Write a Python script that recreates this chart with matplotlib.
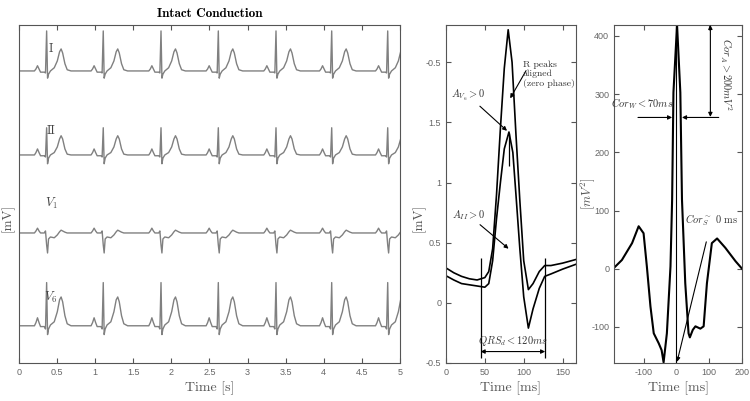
import numpy as np
import matplotlib
matplotlib.use("Agg")
import matplotlib.pyplot as plt

# ---- data ----
# R peak times of the 5 s strip [s]
r_times = [0.363, 1.106, 1.864, 2.616, 3.373, 4.104, 4.839]

# one beat template: knot times relative to the R peak [s]
beat_knots = [-0.30, -0.16, -0.14, -0.12, -0.10, -0.08, -0.03, -0.015, 0.0, 0.012,
              0.025, 0.05, 0.10, 0.14, 0.17, 0.19, 0.21, 0.24, 0.27, 0.32, 0.40]
# amplitude of each lead at those knots [mV]
beat_I = [0, 0, 0.05, 0.13, 0.05, -0.03, -0.03, -0.05, 1.0, -0.18,
          -0.08, 0.0, 0.08, 0.25, 0.48, 0.55, 0.45, 0.18, 0.03, 0, 0]
beat_II = [0, 0, 0.06, 0.15, 0.06, -0.02, -0.02, -0.05, 0.68, -0.22,
           -0.08, 0.0, 0.06, 0.2, 0.4, 0.48, 0.4, 0.15, 0.02, 0, 0]
beat_V1 = [0, 0, 0.05, 0.12, 0.05, 0, 0, 0.05, -0.3, -0.5,
           -0.15, -0.1, -0.12, -0.05, 0.03, 0.07, 0.05, 0.02, 0, 0, 0]
beat_V6 = [0, 0, 0.08, 0.2, 0.08, -0.02, -0.02, -0.08, 1.08, -0.22,
           -0.08, 0.02, 0.1, 0.35, 0.65, 0.72, 0.6, 0.25, 0.05, 0, 0]
lead_names = ["I", "II", "$V_1$", "$V_6$"]
lead_beats = [beat_I, beat_II, beat_V1, beat_V6]
lead_offsets = [7.3, 5.2, 3.25, 0.93]
label_rise = [0.55, 0.6, 0.75, 0.7]

# averaged QRS complexes, aligned at the R peak [ms], [mV]
qrs_t_a = [0, 10, 20, 30, 40, 50, 55, 60, 65, 70, 75, 80, 85, 90, 95, 100, 106, 112, 120, 127, 135, 150, 167]
qrs_a = [0.29, 0.25, 0.22, 0.20, 0.19, 0.21, 0.26, 0.45, 0.9, 1.45, 1.95, 2.27, 2.0, 1.4, 0.85, 0.35,
         0.11, 0.16, 0.26, 0.31, 0.31, 0.33, 0.36]
qrs_t_b = [0, 10, 20, 30, 40, 50, 55, 60, 65, 70, 75, 81, 86, 90, 95, 100, 106, 112, 120, 127, 135, 150, 167]
qrs_b = [0.225, 0.19, 0.16, 0.15, 0.14, 0.13, 0.16, 0.35, 0.7, 1.0, 1.28, 1.42, 1.25, 0.9, 0.45, 0.05,
         -0.21, -0.05, 0.12, 0.22, 0.24, 0.28, 0.32]
qrs_yticks = [-0.5, 0, 0.5, 1, 1.5, 2]
qrs_yticklabels = ["-0.5", "0", "0.5", "1", "1.5", "-0.5"]

# cross correlation [ms], [mV^2]
cor_t = [-191, -166, -135, -115, -100, -90, -79, -69, -54, -45, -39, -29, -18, -13, -9, 2,
         12, 17, 27, 37, 41, 50, 58, 73, 83, 93, 108, 124, 149, 180, 200]
cor_v = [1, 15, 44, 73, 61, 4, -65, -111, -128, -140, -161, -111, 4, 119, 303, 419,
         303, 119, -25, -111, -118, -105, -99, -103, -99, -25, 44, 52, 36, 13, 0]

plt.rcParams["mathtext.fontset"] = "cm"
serif = "cmr10"
tick_kw = dict(labelsize=6.5, labelcolor="#666666", direction="in", length=3.5,
               color="#555555")

fig = plt.figure(figsize=(7.5, 4.01), dpi=100)
ax1 = fig.add_axes([0.0253, 0.0948, 0.508, 0.843])
ax2 = fig.add_axes([0.5947, 0.0948, 0.173, 0.843])
ax3 = fig.add_axes([0.8187, 0.0948, 0.1707, 0.843])

for ax in (ax1, ax2, ax3):
    for s in ax.spines.values():
        s.set_color("#555555")
        s.set_linewidth(0.8)

# ---- panel 1: 12-lead strip ----
for name, beat, off, rise in zip(lead_names, lead_beats, lead_offsets, label_rise):
    tt = [0.0]
    yy = [off]
    for r in r_times:
        for k, a in zip(beat_knots, beat):
            tt.append(r + k)
            yy.append(off + a)
    ax1.plot(tt, yy, color="#808080", lw=1.0)
    ax1.text(0.42, off + rise, name, fontsize=9, color="#444444", family=serif,
             ha="center", va="center")

ax1.set_xlim(0, 5)
ax1.set_ylim(0, 8.45)
ax1.set_xticks(np.arange(0, 5.01, 0.5))
ax1.set_xticklabels(["0", "0.5", "1", "1.5", "2", "2.5", "3", "3.5", "4", "4.5", "5"],
                    family="Liberation Sans")
ax1.set_yticks([])
ax1.tick_params(axis="x", top=True, **tick_kw)
ax1.set_title("Intact Conduction", fontsize=9.5, family="cmb10", pad=6)
ax1.set_xlabel("Time [s]", fontsize=10, family=serif, color="#555555", labelpad=3)
ax1.set_ylabel("[mV]", fontsize=9.5, family=serif, color="#555555")
ax1.yaxis.set_label_coords(-0.012, 0.43)

# ---- panel 2: aligned QRS complexes ----
ax2.plot(qrs_t_a, qrs_a, color="k", lw=1.2)
ax2.plot(qrs_t_b, qrs_b, color="k", lw=1.2)
ax2.set_xlim(0, 167)
ax2.set_ylim(-0.5, 2.31)
ax2.set_xticks([0, 50, 100, 150])
ax2.set_xticklabels(["0", "50", "100", "150"], family="Liberation Sans")
ax2.set_yticks(qrs_yticks)
ax2.set_yticklabels(qrs_yticklabels, family="Liberation Sans")
ax2.tick_params(axis="both", top=True, right=True, **tick_kw)
ax2.set_xlabel("Time [ms]", fontsize=10, family=serif, color="#555555", labelpad=3)
ax2.set_ylabel("[mV]", fontsize=9.5, family=serif, color="#555555")
ax2.yaxis.set_label_coords(-0.155, 0.43)

arr = dict(arrowstyle="-|>", color="k", lw=0.8, mutation_scale=6, shrinkA=0, shrinkB=0)
ax2.vlines([44.5, 127.6], -0.46, 0.37, color="k", lw=0.9)
ax2.vlines(81, 1.14, 1.41, color="k", lw=0.9)
ax2.annotate("", xy=(44.5, -0.405), xytext=(127.6, -0.405),
             arrowprops=dict(arrowstyle="<|-|>", color="k", lw=0.8, mutation_scale=6,
                             shrinkA=0, shrinkB=0))
ax2.text(86, -0.32, r"$QRS_d < 120ms$", fontsize=7.5, ha="center", va="center", color="#333333")
ax2.annotate(r"$A_{V_6} > 0$", xy=(78.5, 1.43), xytext=(29, 1.72), fontsize=7.5,
             ha="center", va="center", color="#333333", arrowprops=arr)
ax2.annotate("", xy=(82.6, 1.70), xytext=(103, 1.93), arrowprops=arr)
ax2.text(99, 1.9, "R peaks\naligned\n(zero phase)", fontsize=7, family=serif,
         ha="left", va="center", color="#333333", linespacing=1.1)
ax2.annotate(r"$A_{II} > 0$", xy=(80.5, 0.45), xytext=(29, 0.73), fontsize=7.5,
             ha="center", va="center", color="#333333", arrowprops=arr)

# ---- panel 3: correlation ----
ax3.plot(cor_t, cor_v, color="k", lw=1.5)
ax3.axvline(0, color="k", lw=0.8)
ax3.set_xlim(-190, 200)
ax3.set_ylim(-162, 419)
ax3.set_xticks([-100, 0, 100, 200])
ax3.set_xticklabels(["-100", "0", "100", "200"], family="Liberation Sans")
ax3.set_yticks([-100, 0, 100, 200, 300, 400])
ax3.set_yticklabels(["-100", "0", "100", "200", "300", "400"], family="Liberation Sans")
ax3.tick_params(axis="both", top=True, right=True, **tick_kw)
ax3.set_xlabel("Time [ms]", fontsize=10, family=serif, color="#555555", labelpad=3)
ax3.set_ylabel(r"$[mV^2]$", fontsize=9, color="#555555")
ax3.yaxis.set_label_coords(-0.135, 0.5)

ax3.annotate("", xy=(103.5, 419), xytext=(103.5, 261),
             arrowprops=dict(arrowstyle="<|-|>", color="k", lw=0.8, mutation_scale=6,
                             shrinkA=0, shrinkB=0))
ax3.text(150, 335, r"$Cor_A > 200mV^2$", rotation=-90, fontsize=7.5,
         ha="center", va="center", color="#333333")
ax3.annotate("", xy=(-13, 260), xytext=(-117, 260), arrowprops=arr)
ax3.annotate("", xy=(17, 260), xytext=(129, 260), arrowprops=arr)
ax3.text(-105, 283, r"$Cor_W < 70ms$", fontsize=7.5, ha="center", va="center", color="#333333")
ax3.annotate(r"$Cor_S^{\sim}$ 0 ms", xy=(2, -160), xytext=(107, 83), fontsize=7.5,
             ha="center", va="center", color="#333333", family=serif,
             arrowprops=dict(arrowstyle="-|>", color="k", lw=0.8, mutation_scale=6,
                             shrinkA=8, shrinkB=0))

fig.savefig("out.png", dpi=100)
